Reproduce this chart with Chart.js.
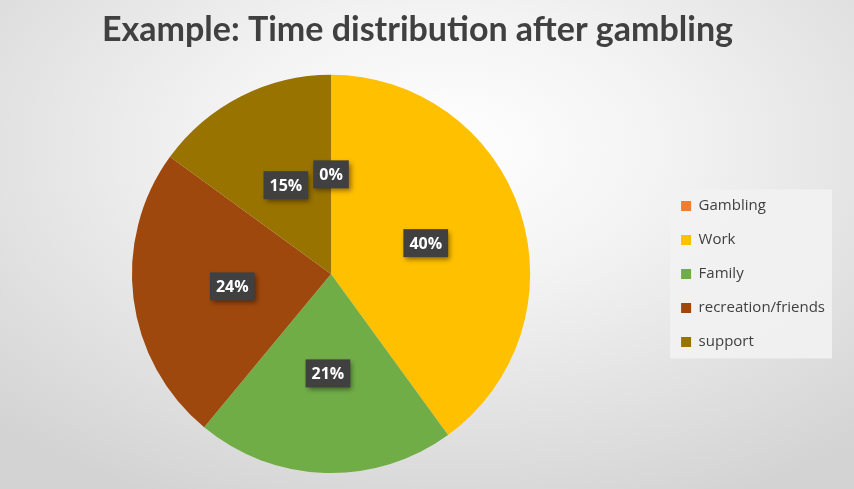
<!DOCTYPE html>
<html lang="en">
<head>
    <meta charset="UTF-8">
    <title>Time distribution after gambling</title>
    <style>
        html, body { margin: 0; padding: 0; }
        body {
            width: 854px; height: 489px; overflow: hidden;
            background: radial-gradient(ellipse 75% 80% at 52% 30%, #ffffff 0%, #f3f3f3 35%, #d3d3d3 100%);
        }
        #wrap { width: 854px; height: 489px; }
    </style>
</head>
<body>
    <div id="wrap">
        <canvas id="myChart"></canvas>
    </div>

    <script src="https://cdn.jsdelivr.net/npm/chart.js"></script>
    <script>
        // Kategorien und Werte (Prozent)
        const labelsArr = ['Gambling', 'Work', 'Family', 'recreation/friends', 'support'];
        const valuesArr = [0, 40, 21, 24, 15];
        const colorsArr = ['#ED7D31', '#FFC000', '#70AD47', '#9E480E', '#997300'];
        const titleText = 'Example: Time distribution after gambling';

        // Hintergrund der Legende
        const legendBg = {
            id: 'legendBg',
            beforeDraw(chart) {
                const boxes = chart.legend.legendHitBoxes;
                if (!boxes || !boxes.length) return;
                let l = Infinity, t = Infinity, r = -Infinity, b = -Infinity;
                boxes.forEach(h => {
                    l = Math.min(l, h.left); t = Math.min(t, h.top);
                    r = Math.max(r, h.left + h.width); b = Math.max(b, h.top + h.height);
                });
                const ctx = chart.ctx;
                ctx.save();
                ctx.fillStyle = 'rgba(242,242,242,0.9)';
                ctx.fillRect(l - 11, t - 9, r - l + 18, b - t + 18);
                ctx.restore();
            }
        };

        // Prozent-Beschriftungen in dunklen Kästchen
        const pctLabels = {
            id: 'pctLabels',
            afterDatasetsDraw(chart) {
                const ctx = chart.ctx;
                const meta = chart.getDatasetMeta(0);
                const total = valuesArr.reduce((a, v) => a + v, 0);
                ctx.save();
                ctx.font = 'bold 16px "Open Sans"';
                ctx.textAlign = 'center';
                ctx.textBaseline = 'middle';
                meta.data.forEach((arc, i) => {
                    const pos = arc.tooltipPosition();
                    const txt = Math.round(valuesArr[i] / total * 100) + '%';
                    const w = ctx.measureText(txt).width + 12;
                    const h = 28;
                    ctx.save();
                    ctx.shadowColor = 'rgba(0,0,0,0.45)';
                    ctx.shadowBlur = 5;
                    ctx.shadowOffsetX = 2;
                    ctx.shadowOffsetY = 3;
                    ctx.fillStyle = '#404040';
                    ctx.fillRect(pos.x - w / 2, pos.y - h / 2, w, h);
                    ctx.restore();
                    ctx.fillStyle = '#ffffff';
                    ctx.fillText(txt, pos.x, pos.y + 1);
                });
                ctx.restore();
            }
        };

        const ctx = document.getElementById('myChart');
        const pie = new Chart(ctx, {
            type: 'pie',
            data: {
                labels: labelsArr,
                datasets: [{
                    data: valuesArr,
                    backgroundColor: colorsArr,
                    borderWidth: 0
                }]
            },
            options: {
                responsive: true,
                maintainAspectRatio: false,
                animation: false,
                layout: { padding: { left: 0, right: 19, bottom: 16 } },
                plugins: {
                    title: {
                        display: true,
                        text: titleText,
                        color: '#404040',
                        font: { family: 'Lato', size: 34, weight: 'bold' },
                        padding: { top: 10, bottom: 24 }
                    },
                    legend: {
                        position: 'right',
                        fullSize: false,
                        labels: {
                            color: '#404040',
                            font: { family: '"Open Sans"', size: 15 },
                            boxWidth: 10,
                            boxHeight: 10,
                            padding: 19
                        }
                    },
                    tooltip: { enabled: false }
                }
            },
            plugins: [legendBg, pctLabels]
        });
    </script>
</body>
</html>
